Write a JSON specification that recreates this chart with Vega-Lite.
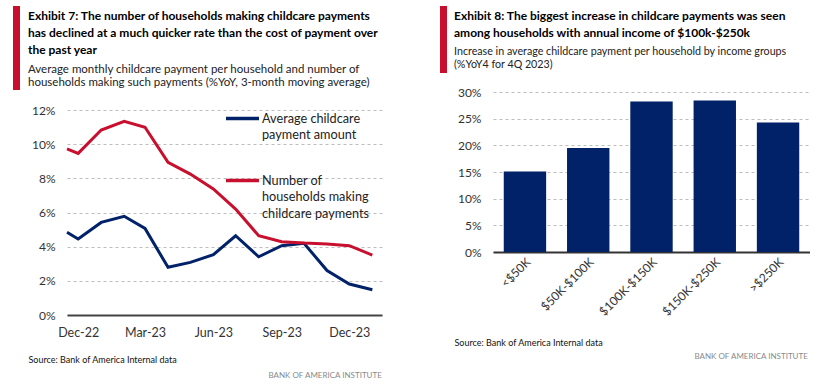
{
  "$schema": "https://vega.github.io/schema/vega-lite/v6.json",
  "background": "white",
  "padding": {"left": 13, "top": 6, "right": 0, "bottom": 0},
  "config": {
    "font": "Lato",
    "view": {"stroke": null},
    "axis": {
      "labelColor": "#333",
      "labelFontSize": 12,
      "ticks": false,
      "domain": false,
      "grid": true,
      "gridColor": "#bdbdbd",
      "gridDash": [3, 3],
      "gridWidth": 1,
      "titleFontWeight": "normal"
    },
    "title": {
      "fontSize": 12,
      "fontWeight": "bold",
      "color": "#000",
      "lineHeight": 17,
      "subtitleFontSize": 11.5,
      "subtitleColor": "#222",
      "subtitleLineHeight": 13.3,
      "subtitlePadding": 7
    },
    "style": {"guide-label": {"lineHeight": 16.7}}
  },
  "datasets": {
    "lines": [
      {"date": "2022-11-16", "series": "Average childcare payment amount", "value": 4.84},
      {"date": "2022-12-01", "series": "Average childcare payment amount", "value": 4.45},
      {"date": "2023-01-01", "series": "Average childcare payment amount", "value": 5.42},
      {"date": "2023-02-01", "series": "Average childcare payment amount", "value": 5.78},
      {"date": "2023-03-01", "series": "Average childcare payment amount", "value": 5.07},
      {"date": "2023-04-01", "series": "Average childcare payment amount", "value": 2.79},
      {"date": "2023-05-01", "series": "Average childcare payment amount", "value": 3.08},
      {"date": "2023-06-01", "series": "Average childcare payment amount", "value": 3.53},
      {"date": "2023-07-01", "series": "Average childcare payment amount", "value": 4.64},
      {"date": "2023-08-01", "series": "Average childcare payment amount", "value": 3.41},
      {"date": "2023-09-01", "series": "Average childcare payment amount", "value": 4.06},
      {"date": "2023-10-01", "series": "Average childcare payment amount", "value": 4.2},
      {"date": "2023-11-01", "series": "Average childcare payment amount", "value": 2.6},
      {"date": "2023-12-01", "series": "Average childcare payment amount", "value": 1.81},
      {"date": "2024-01-01", "series": "Average childcare payment amount", "value": 1.48},
      {"date": "2022-11-16", "series": "Number of households making childcare payments", "value": 9.72},
      {"date": "2022-12-01", "series": "Number of households making childcare payments", "value": 9.46},
      {"date": "2023-01-01", "series": "Number of households making childcare payments", "value": 10.83},
      {"date": "2023-02-01", "series": "Number of households making childcare payments", "value": 11.34},
      {"date": "2023-03-01", "series": "Number of households making childcare payments", "value": 10.99},
      {"date": "2023-04-01", "series": "Number of households making childcare payments", "value": 8.94},
      {"date": "2023-05-01", "series": "Number of households making childcare payments", "value": 8.25},
      {"date": "2023-06-01", "series": "Number of households making childcare payments", "value": 7.38},
      {"date": "2023-07-01", "series": "Number of households making childcare payments", "value": 6.2},
      {"date": "2023-08-01", "series": "Number of households making childcare payments", "value": 4.64},
      {"date": "2023-09-01", "series": "Number of households making childcare payments", "value": 4.29},
      {"date": "2023-10-01", "series": "Number of households making childcare payments", "value": 4.21},
      {"date": "2023-11-01", "series": "Number of households making childcare payments", "value": 4.16},
      {"date": "2023-12-01", "series": "Number of households making childcare payments", "value": 4.06},
      {"date": "2024-01-01", "series": "Number of households making childcare payments", "value": 3.51}
    ],
    "bars": [
      {"group": "<$50K", "value": 15.1},
      {"group": "$50K-$100K", "value": 19.5},
      {"group": "$100K-$150K", "value": 28.2},
      {"group": "$150K-$250K", "value": 28.4},
      {"group": ">$250K", "value": 24.3}
    ]
  },
  "spacing": 57,
  "hconcat": [
    {
      "spacing": 8,
      "hconcat": [
        {
          "width": 7,
          "height": 84,
          "data": {"values": [{}]},
          "mark": {"type": "rect", "color": "#c8102e"}
        },
        {
          "spacing": 15,
          "vconcat": [
            {
              "width": 315,
              "height": 1,
              "data": {"values": [{}]},
              "mark": {"type": "rect", "opacity": 0},
              "title": {
                "text": [
                  "Exhibit 7: The number of households making childcare payments",
                  "has declined at a much quicker rate than the cost of payment over",
                  "the past year"
                ],
                "subtitle": [
                  "Average monthly childcare payment per household and number of",
                  "households making such payments (%YoY, 3-month moving average)"
                ],
                "orient": "bottom",
                "anchor": "start",
                "frame": "group",
                "dx": -39,
                "offset": 4
              }
            },
            {
              "width": 315,
              "height": 205,
              "data": {"name": "lines"},
              "mark": {"type": "line", "strokeWidth": 3},
              "encoding": {
                "x": {
                  "field": "date",
                  "type": "temporal",
                  "scale": {
                    "type": "utc",
                    "domain": [
                      {"year": 2022, "month": 11, "date": 16, "utc": true},
                      {"year": 2024, "month": 1, "date": 14, "utc": true}
                    ]
                  },
                  "axis": {
                    "values": [
                      {"year": 2022, "month": 12, "date": 1, "utc": true},
                      {"year": 2023, "month": 3, "date": 1, "utc": true},
                      {"year": 2023, "month": 6, "date": 1, "utc": true},
                      {"year": 2023, "month": 9, "date": 1, "utc": true},
                      {"year": 2023, "month": 12, "date": 1, "utc": true}
                    ],
                    "labelExpr": "utcFormat(datum.value, '%b-%y')",
                    "grid": false,
                    "domain": true,
                    "domainColor": "#444",
                    "domainWidth": 2,
                    "labelPadding": 11,
                    "labelFontSize": 12.5,
                    "title": "Source: Bank of America Internal data",
                    "titleX": -39,
                    "titleY": 47,
                    "titleAlign": "left",
                    "titleBaseline": "alphabetic",
                    "titleFontSize": 9,
                    "titleColor": "#111"
                  }
                },
                "y": {
                  "field": "value",
                  "type": "quantitative",
                  "scale": {"domain": [0, 12]},
                  "axis": {
                    "values": [0, 2, 4, 6, 8, 10, 12],
                    "labelExpr": "datum.value + '%'",
                    "labelPadding": 12,
                    "title": "BANK OF AMERICA INSTITUTE",
                    "titleAngle": 0,
                    "titleX": 201,
                    "titleY": 267,
                    "titleAlign": "left",
                    "titleBaseline": "alphabetic",
                    "titleFontSize": 8,
                    "titleColor": "#8a8a8a"
                  }
                },
                "color": {
                  "field": "series",
                  "type": "nominal",
                  "scale": {
                    "domain": ["Average childcare payment amount", "Number of households making childcare payments"],
                    "range": ["#012169", "#c8102e"]
                  },
                  "legend": {
                    "orient": "none",
                    "legendX": 211,
                    "legendY": 94,
                    "title": null,
                    "padding": 0,
                    "symbolType": "stroke",
                    "symbolSize": 1089,
                    "symbolStrokeWidth": 3.5,
                    "labelFontSize": 12.7,
                    "labelColor": "#222",
                    "labelOffset": 1,
                    "labelBaseline": "middle",
                    "labelLimit": 200,
                    "rowPadding": 20,
                    "labelExpr": "datum.label == 'Average childcare payment amount' ? ['Average childcare', 'payment amount'] : ['Number of', 'households making', 'childcare payments']"
                  }
                }
              }
            }
          ]
        }
      ]
    },
    {
      "spacing": 7,
      "hconcat": [
        {
          "width": 7,
          "height": 67,
          "data": {"values": [{}]},
          "mark": {"type": "rect", "color": "#c8102e"}
        },
        {
          "spacing": 16,
          "vconcat": [
            {
              "width": 317,
              "height": 1,
              "data": {"values": [{}]},
              "mark": {"type": "rect", "opacity": 0},
              "title": {
                "text": [
                  "Exhibit 8: The biggest increase in childcare payments was seen",
                  "among households with annual income of $100k-$250k"
                ],
                "subtitle": [
                  "Increase in average childcare payment per household by income groups",
                  "(%YoY4 for 4Q 2023)"
                ],
                "subtitleFontSize": 10.7,
                "orient": "bottom",
                "anchor": "start",
                "frame": "group",
                "dx": -39,
                "offset": 4
              }
            },
            {
              "width": 317,
              "height": 160,
              "data": {"name": "bars"},
              "mark": {"type": "bar", "color": "#012169"},
              "encoding": {
                "x": {
                  "field": "group",
                  "type": "nominal",
                  "sort": null,
                  "scale": {"paddingInner": 0.33, "paddingOuter": 0.17},
                  "axis": {
                    "labelAngle": -45,
                    "labelFontSize": 12,
                    "labelPadding": 4,
                    "grid": false,
                    "domain": true,
                    "domainColor": "#333",
                    "domainWidth": 2,
                    "title": "Source: Bank of America Internal data",
                    "titleX": -39,
                    "titleY": 93,
                    "titleAlign": "left",
                    "titleBaseline": "alphabetic",
                    "titleFontSize": 9,
                    "titleColor": "#111"
                  }
                },
                "y": {
                  "field": "value",
                  "type": "quantitative",
                  "scale": {"domain": [0, 30]},
                  "axis": {
                    "values": [0, 5, 10, 15, 20, 25, 30],
                    "labelExpr": "datum.value + '%'",
                    "labelPadding": 12,
                    "title": "BANK OF AMERICA INSTITUTE",
                    "titleAngle": 0,
                    "titleX": 201,
                    "titleY": 266,
                    "titleAlign": "left",
                    "titleBaseline": "alphabetic",
                    "titleFontSize": 8,
                    "titleColor": "#8a8a8a"
                  }
                }
              }
            }
          ]
        }
      ]
    }
  ]
}
